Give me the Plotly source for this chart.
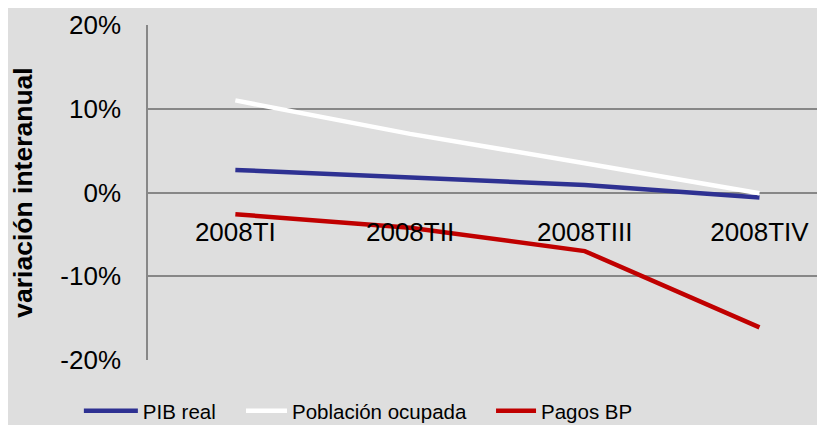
import plotly.graph_objects as go

categories = ["2008TI", "2008TII", "2008TIII", "2008TIV"]
pib_real = [2.7, 1.8, 0.9, -0.6]
poblacion_ocupada = [11.0, 7.0, 3.5, -0.1]
pagos_bp = [-2.6, -4.2, -7.0, -16.1]
y_ticks = [-20, -10, 0, 10, 20]
y_ticklabels = ["-20%", "-10%", "0%", "10%", "20%"]

BG = "#dedede"
GRID = "#878787"

fig = go.Figure()
series = [
    ("PIB real", pib_real, "#2e3192", "legend"),
    ("Población ocupada", poblacion_ocupada, "#ffffff", "legend2"),
    ("Pagos BP", pagos_bp, "#c00000", "legend3"),
]
for name, vals, col, lg in series:
    fig.add_trace(go.Scatter(x=categories, y=vals, name=name, mode="lines",
                             line=dict(color=col, width=4.5), legend=lg))

def leg(x, iw):
    return dict(orientation="h", xref="container", yref="container",
                x=x, xanchor="left", y=0.0518, yanchor="middle",
                font=dict(size=20.5), bgcolor="rgba(0,0,0,0)", itemwidth=iw)

fig.update_layout(
    template="none",
    width=825, height=425,
    margin=dict(l=140, r=8, t=17, b=73),
    paper_bgcolor=BG, plot_bgcolor=BG,
    font=dict(family="Liberation Sans, Arial, sans-serif", color="#000000"),
    showlegend=True,
    legend=leg(0.0859, 54),
    legend2=leg(0.2824, 41),
    legend3=leg(0.5855, 40),
    xaxis=dict(type="category", categoryorder="array", categoryarray=categories,
               range=[-0.5, 3.375], anchor="free", position=0.5, automargin=False,
               showgrid=False, showline=False, zeroline=False,
               ticks="outside", ticklen=16, tickcolor="rgba(0,0,0,0)",
               tickfont=dict(size=26)),
    yaxis=dict(range=[-20, 20], tickvals=y_ticks, ticktext=y_ticklabels, automargin=False,
               showgrid=True, gridcolor=GRID, gridwidth=1.5,
               zeroline=True, zerolinecolor=GRID, zerolinewidth=1.5,
               showline=True, linecolor=GRID, linewidth=1.5,
               ticks="outside", ticklen=20, tickcolor="rgba(0,0,0,0)",
               tickfont=dict(size=26),
               title=dict(text="<b>variación interanual</b>", font=dict(size=26.5), standoff=24)),
)

fig.write_html("out.html")
